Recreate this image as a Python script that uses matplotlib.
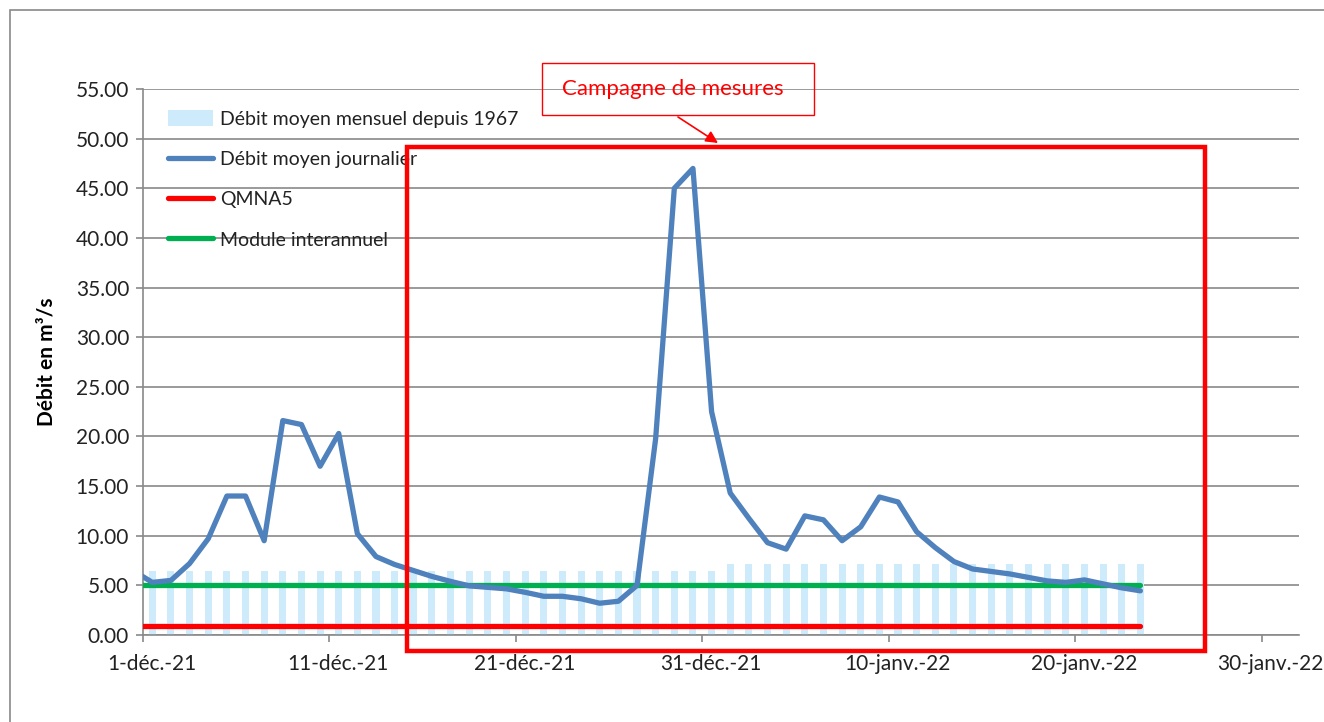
import numpy as np
import matplotlib
matplotlib.use("Agg")
import matplotlib.pyplot as plt
from matplotlib.patches import Rectangle

plt.rcParams['font.family'] = ['Lato', 'DejaVu Sans']

# days counted from 1-dec-21 (day 0), one value per day, first value is 30-nov
daily_flow = [6.45, 5.3, 5.5, 7.2, 9.7, 14.0, 14.0, 9.5, 21.6, 21.2, 17.0,
              20.3, 10.2, 7.9, 7.1, 6.5, 5.9, 5.4, 4.95, 4.8, 4.65,
              4.3, 3.9, 3.9, 3.65, 3.2, 3.4, 5.0, 19.8, 45.0, 47.0,
              22.5, 14.3, 11.75, 9.3, 8.65, 12.0, 11.6, 9.5, 10.9, 13.9,
              13.4, 10.4, 8.8, 7.4, 6.65, 6.4, 6.15, 5.8, 5.45, 5.3,
              5.55, 5.15, 4.75, 4.45]
month_days = [31, 23]
month_mean = [6.4, 7.2]      # debit moyen mensuel depuis 1967
qmna5 = 0.9
module = 5.03

tick_days = [0, 10, 20, 30, 40, 50, 60]
tick_labels = ["1-déc.-21", "11-déc.-21", "21-déc.-21", "31-déc.-21",
               "10-janv.-22", "20-janv.-22", "30-janv.-22"]
campaign = (14.15, 56.95)    # days covered by the red box

line_x = np.arange(-1, len(daily_flow) - 1) + 0.5
bar_vals = np.repeat(month_mean, month_days)
bar_x = np.arange(len(bar_vals)) + 0.5

fig = plt.figure(figsize=(13.24, 7.22), dpi=100)
ax = fig.add_axes([0.108, 0.1205, 0.873, 0.7562])

grey = '#898989'
ax.set_ylim(0, 55)
ax.set_xlim(0, 62)
ax.set_yticks(np.arange(0, 56, 5))
ax.set_yticklabels([f"{v:.2f}" for v in np.arange(0, 56, 5)])
ax.grid(axis='y', color=grey, lw=1.2, zorder=0)
ax.set_axisbelow(True)
ax.set_xticks(tick_days)
ax.set_xticklabels(tick_labels)

for s in ['top', 'right']:
    ax.spines[s].set_visible(False)
for s in ['left', 'bottom']:
    ax.spines[s].set_color(grey)
    ax.spines[s].set_linewidth(1.2)
ax.tick_params(axis='both', colors=grey, length=5, width=1.2,
               labelcolor='#222222', labelsize=15)
ax.tick_params(axis='x', pad=9)
ax.tick_params(axis='y', pad=5)
for lab in ax.get_xticklabels():
    lab.set_transform(lab.get_transform() +
                      matplotlib.transforms.ScaledTranslation(0.09, 0, fig.dpi_scale_trans))

bars = ax.bar(bar_x, bar_vals, width=0.38, color='#CDEBFB', zorder=1)
l_day, = ax.plot(line_x, daily_flow, color='#4F81BD', lw=3.8, solid_capstyle='round',
                 solid_joinstyle='round', zorder=4)
l_q, = ax.plot([line_x[0], line_x[-1]], [qmna5, qmna5], color='#FF0000', lw=3.8,
               solid_capstyle='round', zorder=3)
l_mod, = ax.plot([line_x[0], line_x[-1]], [module, module], color='#00B050', lw=3.8,
                 solid_capstyle='round', zorder=3)

ax.set_ylabel("Débit en m³/s", fontsize=15, fontweight='bold')
ax.yaxis.set_label_coords(-0.075, 0.5)

leg = ax.legend([bars, l_day, l_q, l_mod],
                ["Débit moyen mensuel depuis 1967", "Débit moyen journalier",
                 "QMNA5", "Module interannuel"],
                loc='upper left', bbox_to_anchor=(0.015, 0.976), frameon=False,
                fontsize=14, handlelength=2.3, handleheight=0.9, handletextpad=0.35,
                labelspacing=1.16, borderaxespad=0)
for t in leg.get_texts():
    t.set_color('#222222')

# red box showing the measurement campaign
ax.add_patch(Rectangle((campaign[0], -1.6), campaign[1] - campaign[0], 50.8,
                       fill=False, edgecolor='#FF0000', lw=3.2, clip_on=False,
                       zorder=6))

# callout
fig.patches.append(Rectangle((542 / 1324, 1 - 115 / 722), 272 / 1324, 52 / 722,
                             transform=fig.transFigure, fill=False,
                             edgecolor='#FF0000', lw=1.0))
fig.text(673 / 1324, 1 - 89 / 722, "Campagne de mesures", color='#FF0000',
         fontsize=16, ha='center', va='center')
ax.annotate("", xy=(718, 722 - 143), xycoords='figure pixels',
            xytext=(678, 722 - 117), textcoords='figure pixels',
            arrowprops=dict(arrowstyle='-|>', color='#FF0000', lw=1.2,
                            mutation_scale=18, shrinkA=0, shrinkB=0))

# outer chart frame
fig.patches.append(Rectangle((10 / 1324, -0.05), 1.2, 1 - 10 / 722 + 0.05,
                             transform=fig.transFigure, fill=False,
                             edgecolor=grey, lw=1.2))

fig.savefig("out.png", dpi=100)
